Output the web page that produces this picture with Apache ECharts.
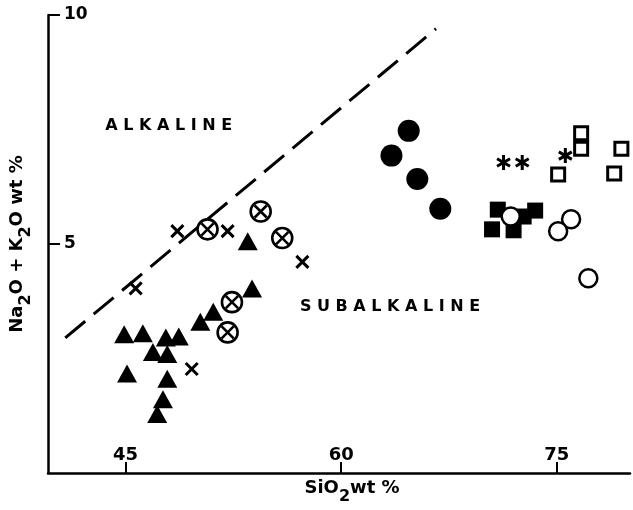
<!DOCTYPE html>
<html>
<head>
<meta charset="utf-8">
<script src="https://cdn.jsdelivr.net/npm/echarts@6/dist/echarts.min.js"></script>
<style>
  html, body { margin: 0; padding: 0; background: #fff; }
  #main { width: 633px; height: 510px; }
</style>
</head>
<body>
<div id="main"></div>
<script>
// SiO2 vs Na2O+K2O (TAS) scatter
var xTicks = [45, 60, 75];
var yTicks = [5, 10];

// alkaline / subalkaline boundary
var boundary = [[40.8, 2.95], [66.6, 9.7]];

var triangles = [
    [44.9, 3.03], [46.2, 3.05], [47.8, 2.96], [48.7, 2.98],
    [46.9, 2.64], [47.9, 2.60], [45.1, 2.17], [47.9, 2.06],
    [47.6, 1.61], [47.2, 1.29], [50.2, 3.30], [51.1, 3.52],
    [53.5, 5.06], [53.8, 4.03]
];
var crossedCircles = [[50.7, 5.32], [54.4, 5.71], [55.9, 5.13], [52.4, 3.73], [52.1, 3.07]];
var crosses = [[48.6, 5.28], [52.1, 5.28], [57.3, 4.61], [45.7, 4.03], [49.6, 2.27]];
var filledCircles = [[64.7, 7.47], [63.5, 6.93], [65.3, 6.42], [66.9, 5.77]];
var asterisks = [[71.3, 6.78], [72.6, 6.78], [75.6, 6.93]];
var openSquares = [[76.7, 7.42], [76.7, 7.08], [75.1, 6.52], [79.5, 7.08], [79.0, 6.54]];
var filledSquares = [[70.9, 5.75], [73.5, 5.73], [70.5, 5.32], [72.0, 5.30], [72.7, 5.60]];
var openCircles = [[71.8, 5.60], [76.0, 5.54], [75.1, 5.28], [77.2, 4.25]];

// field names
var fieldLabels = [
    ['A L K A L I N E', 48.0, 7.58],
    ['S U B A L K A L I N E', 63.4, 3.63]
];

var FONT = 'DejaVu Sans';
var black = '#000';

var nameRich = {
    n: { fontSize: 18, fontWeight: 'bold', fontFamily: FONT, color: black, verticalAlign: 'top', lineHeight: 26 },
    s: { fontSize: 16, fontWeight: 'bold', fontFamily: FONT, color: black, verticalAlign: 'bottom' }
};

function pts(data, symbol, size, style) {
    return {
        type: 'scatter',
        data: data,
        symbol: symbol,
        symbolSize: size,
        symbolKeepAspect: true,
        itemStyle: Object.assign({ opacity: 1 }, style),
        emphasis: { disabled: true }
    };
}

var myChart = echarts.init(document.getElementById('main'));

option = {
    animation: false,
    backgroundColor: '#fff',
    grid: { left: 47, right: 3, top: 15, bottom: 30 },
    xAxis: {
        type: 'value',
        min: 39.6,
        max: 80.1,
        splitLine: { show: false },
        axisLine: { onZero: false, lineStyle: { color: black, width: 2.5 } },
        axisTick: { inside: true, length: 11, customValues: xTicks, lineStyle: { color: black, width: 2 } },
        axisLabel: {
            inside: true, margin: 9, customValues: xTicks,
            fontSize: 18, fontWeight: 'bold', fontFamily: FONT, color: black
        },
        name: '{n|SiO}{s|2}{n|wt %}',
        nameLocation: 'middle',
        nameGap: 6,
        nameTextStyle: { rich: nameRich, padding: [0, 0, 0, 26] }
    },
    yAxis: {
        type: 'value',
        min: 0,
        max: 10,
        splitLine: { show: false },
        axisLine: { onZero: false, lineStyle: { color: black, width: 2.5 } },
        axisTick: { inside: true, length: 12, customValues: yTicks, lineStyle: { color: black, width: 2 } },
        axisLabel: {
            inside: true, margin: 16, customValues: yTicks,
            fontSize: 17, fontWeight: 'bold', fontFamily: FONT, color: black
        },
        name: '{n|Na}{s|2}{n|O + K}{s|2}{n|O wt %}',
        nameLocation: 'middle',
        nameRotate: 90,
        nameGap: 14,
        nameTextStyle: { rich: nameRich }
    },
    series: [
        {
            type: 'line',
            data: boundary,
            symbol: 'none',
            lineStyle: { color: black, width: 3, type: [26, 11], cap: 'butt', opacity: 1 },
            emphasis: { disabled: true },
            z: 1
        },
        {
            type: 'scatter',
            data: fieldLabels.map(function (d) { return { value: [d[1], d[2]], name: d[0] }; }),
            symbolSize: 1,
            itemStyle: { color: 'rgba(0,0,0,0)', opacity: 1 },
            emphasis: { disabled: true },
            label: {
                show: true, position: 'inside', formatter: '{b}',
                fontSize: 16, fontWeight: 'bold', fontFamily: FONT, color: black
            }
        },
        pts(triangles, 'triangle', [20, 18], { color: black }),
        pts(crossedCircles, 'path://M20,10A10,10,0,1,1,0,10A10,10,0,1,1,20,10ZM4,4L16,16M16,4L4,16', 20,
            { color: '#fff', borderColor: black, borderWidth: 2.6 }),
        pts(crosses, 'path://M0,0L10,10M10,0L0,10', 12,
            { color: 'rgba(0,0,0,0)', borderColor: black, borderWidth: 3 }),
        pts(filledCircles, 'circle', 22, { color: black }),
        pts(asterisks, 'path://M5,0L5,10M0.67,2.5L9.33,7.5M0.67,7.5L9.33,2.5', 15,
            { color: 'rgba(0,0,0,0)', borderColor: black, borderWidth: 3 }),
        pts(openSquares, 'rect', 13, { color: '#fff', borderColor: black, borderWidth: 3 }),
        pts(filledSquares, 'rect', 16, { color: black }),
        pts(openCircles, 'circle', 18, { color: '#fff', borderColor: black, borderWidth: 2.5 })
    ]
};

myChart.setOption(option);
</script>
</body>
</html>
